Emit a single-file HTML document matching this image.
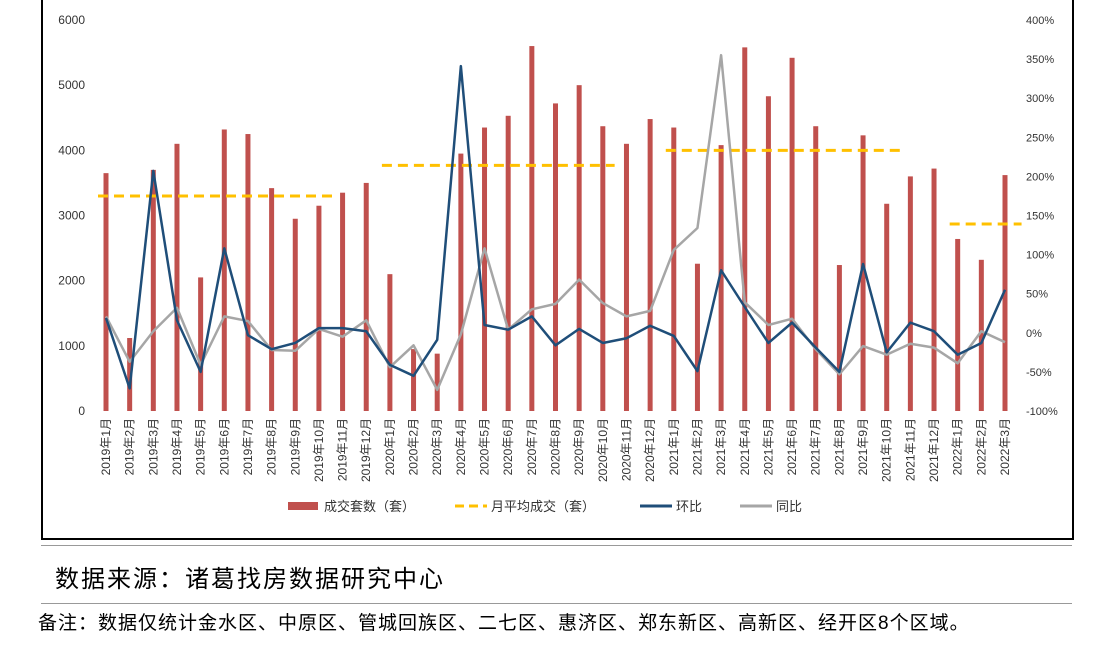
<!DOCTYPE html>
<html><head><meta charset="utf-8"><style>
body{margin:0;background:#fff;width:1110px;height:652px;overflow:hidden;font-family:"Liberation Sans","Noto Sans CJK SC",sans-serif;}
#box{position:absolute;left:41px;top:-3px;width:1029px;height:539px;border:2px solid #000;}
.t{position:absolute;white-space:nowrap;}
</style></head><body>
<div id="box"></div>
<svg id="c" width="1110" height="545" style="position:absolute;left:0;top:0"></svg>
<div class="t" style="left:41px;top:545px;width:1031px;border-top:1px solid #999"></div>
<div class="t" style="left:55px;top:559px;font-size:24px;letter-spacing:2px;color:#000">数据来源：诸葛找房数据研究中心</div>
<div class="t" style="left:41px;top:603px;width:1031px;border-top:1px solid #999"></div>
<div class="t" style="left:38px;top:608px;font-size:19px;letter-spacing:1px;color:#000">备注：数据仅统计金水区、中原区、管城回族区、二七区、惠济区、郑东新区、高新区、经开区8个区域。</div>
<script>
const months=[];for(let y=2019;y<=2022;y++)for(let m=1;m<=12;m++){if(y===2022&&m>3)break;months.push(y+'年'+m+'月');}
const volumes=[3650,1120,3700,4100,2050,4320,4250,3420,2950,3150,3350,3500,2100,950,880,3950,4350,4530,5600,4720,5000,4370,4100,4480,4350,2260,4080,5580,4830,5420,4370,2240,4230,3180,3600,3720,2640,2320,3620];
const mom=[19,-71,207,16,-50,108,-3,-21,-13,6,6,2,-41,-55,-9,341,10,4,21,-16,5,-13,-7,9,-4,-49,80,33,-13,13,-19,-50,88,-25,13,2,-28,-13,55];
const yoy=[21,-37,2,32,-41,21,15,-22,-23,5,-5,16,-44,-16,-73,-2,108,4,30,37,68,38,21,28,106,134,355,39,10,18,-21,-53,-17,-28,-14,-19,-39,2,-12];
const avgValues=[3300,3770,4000,2870];
const avgStart=[0,12,24,36];
const avgEnd=[9.75,21.5,33.7,38.7];
const leftTicks=[0,1000,2000,3000,4000,5000,6000];
const rightTicks=[-100,-50,0,50,100,150,200,250,300,350,400];
const NS='http://www.w3.org/2000/svg',svg=document.getElementById('c');
const x=i=>106+i*(1005-106)/38;
const yL=v=>411-v*391/6000;
const yR=p=>411-(p+100)*391/500;
function mk(t,a){const e=document.createElementNS(NS,t);for(const k in a)e.setAttribute(k,a[k]);svg.appendChild(e);return e;}
leftTicks.forEach(v=>{const e=mk('text',{x:85,y:yL(v)+4,'text-anchor':'end','font-size':12,fill:'#333'});e.textContent=v;

});
rightTicks.forEach(v=>{const e=mk('text',{x:1026,y:yR(v)+4,'font-size':11,fill:'#333'});e.textContent=v+'%';

});
volumes.forEach((v,i)=>{const r=mk('rect',{x:x(i)-2.5,y:yL(v),width:5,height:411-yL(v),fill:'#c0504d'});

});
months.forEach((m,i)=>{const t=mk('text',{transform:`translate(${x(i)+4},418) rotate(-90)`,'text-anchor':'end','font-size':12,fill:'#333'});t.textContent=m;

});
avgValues.forEach((v,i)=>{const l=mk('line',{x1:x(avgStart[i])-8,x2:x(avgEnd[i]),y1:yL(v),y2:yL(v),stroke:'#ffc000','stroke-width':3,'stroke-dasharray':'10,6'});

});
const pl=(d,c,n)=>{const p=mk('polyline',{points:d.map((v,i)=>x(i)+','+yR(v)).join(' '),fill:'none',stroke:c,'stroke-width':2.5,'stroke-linejoin':'round'});

};
pl(yoy,'#a6a6a6','yoy-line');
pl(mom,'#1f4e79','mom-line');
const lg=[['rect','#c0504d','成交套数（套）',288],['dash','#ffc000','月平均成交（套）',455],['line','#1f4e79','环比',640],['line','#a6a6a6','同比',740]];
lg.forEach(([k,c,t,lx])=>{
if(k==='rect')mk('rect',{x:lx,y:502,width:30,height:8,fill:c});
else mk('line',{x1:lx,x2:lx+32,y1:506,y2:506,stroke:c,'stroke-width':3,'stroke-dasharray':k==='dash'?'9,5':''});
const e=mk('text',{x:lx+36,y:511,'font-size':13,fill:'#333'});e.textContent=t;

});
</script>
</body></html>
